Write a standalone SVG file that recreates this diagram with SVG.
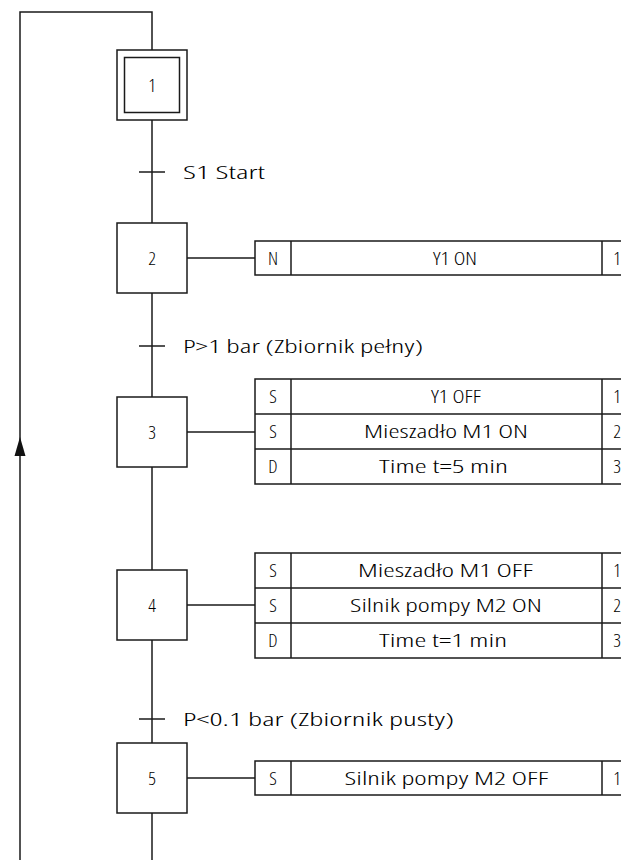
<svg xmlns="http://www.w3.org/2000/svg" width="621" height="860" viewBox="0 0 621 860">
<defs>
<style>
.ln{stroke:#1a1a1a;stroke-width:1.5;fill:none}
.bx{stroke:#1a1a1a;stroke-width:1.5;fill:#fff}
.t{font-family:"Open Sans","Liberation Sans",Arial,sans-serif;font-weight:300;font-stretch:75%;font-size:19px;fill:#000}
.c{text-anchor:middle}
</style>
</defs>
<rect width="621" height="860" fill="#fff"/>
<g id="connectors">
<polyline class="ln" points="20,860 20,12 152,12 152,50"/>
<path d="M20,437 L25.5,456 L14.5,456 Z" fill="#111"/>
<line class="ln" x1="152" y1="120" x2="152" y2="223"/>
<line class="ln" x1="152" y1="293" x2="152" y2="397"/>
<line class="ln" x1="152" y1="467" x2="152" y2="570"/>
<line class="ln" x1="152" y1="640" x2="152" y2="743"/>
<line class="ln" x1="152" y1="813" x2="152" y2="860"/>
<line class="ln" x1="187" y1="258" x2="255" y2="258"/>
<line class="ln" x1="187" y1="432" x2="255" y2="432"/>
<line class="ln" x1="187" y1="605" x2="255" y2="605"/>
<line class="ln" x1="187" y1="778" x2="255" y2="778"/>
</g>
<g id="t1">
<line class="ln" x1="139" y1="172" x2="165" y2="172"/>
<text class="t" x="183" y="179" textLength="82" lengthAdjust="spacingAndGlyphs">S1 Start</text>
</g>
<g id="t2">
<line class="ln" x1="139" y1="346" x2="165" y2="346"/>
<text class="t" x="183" y="353" textLength="240" lengthAdjust="spacingAndGlyphs">P&gt;1 bar (Zbiornik pełny)</text>
</g>
<g id="t4">
<line class="ln" x1="139" y1="719" x2="165" y2="719"/>
<text class="t" x="183" y="726" textLength="271" lengthAdjust="spacingAndGlyphs">P&lt;0.1 bar (Zbiornik pusty)</text>
</g>
<g id="step1">
<rect class="bx" x="117" y="50" width="70" height="70"/>
<rect class="bx" x="124.5" y="57.5" width="55" height="55"/>
<text class="t c" x="152" y="92">1</text>
</g>
<g id="step2">
<rect class="bx" x="117" y="223" width="70" height="70"/>
<text class="t c" x="152" y="265">2</text>
</g>
<g id="step3">
<rect class="bx" x="117" y="397" width="70" height="70"/>
<text class="t c" x="152" y="439">3</text>
</g>
<g id="step4">
<rect class="bx" x="117" y="570" width="70" height="70"/>
<text class="t c" x="152" y="612">4</text>
</g>
<g id="step5">
<rect class="bx" x="117" y="743" width="70" height="70"/>
<text class="t c" x="152" y="785">5</text>
</g>
<g id="action2">
<rect class="bx" x="255" y="241" width="400" height="34"/>
<line class="ln" x1="291" y1="241" x2="291" y2="275"/>
<line class="ln" x1="602" y1="241" x2="602" y2="275"/>
<text class="t c" x="273" y="265">N</text>
<text class="t c" x="455" y="265" textLength="44" lengthAdjust="spacingAndGlyphs">Y1 ON</text>
<text class="t c" x="617" y="265">1</text>
</g>
<g id="action3">
<rect class="bx" x="255" y="379" width="400" height="105"/>
<line class="ln" x1="255" y1="414" x2="655" y2="414"/>
<line class="ln" x1="255" y1="449" x2="655" y2="449"/>
<line class="ln" x1="291" y1="379" x2="291" y2="484"/>
<line class="ln" x1="602" y1="379" x2="602" y2="484"/>
<text class="t c" x="273" y="403">S</text>
<text class="t c" x="456" y="403" textLength="50" lengthAdjust="spacingAndGlyphs">Y1 OFF</text>
<text class="t c" x="617" y="403">1</text>
<text class="t c" x="273" y="438">S</text>
<text class="t c" x="446" y="438" textLength="164" lengthAdjust="spacingAndGlyphs">Mieszadło M1 ON</text>
<text class="t c" x="617" y="438">2</text>
<text class="t c" x="273" y="473">D</text>
<text class="t c" x="443.5" y="473" textLength="129" lengthAdjust="spacingAndGlyphs">Time t=5 min</text>
<text class="t c" x="617" y="473">3</text>
</g>
<g id="action4">
<rect class="bx" x="255" y="553" width="400" height="105"/>
<line class="ln" x1="255" y1="588" x2="655" y2="588"/>
<line class="ln" x1="255" y1="623" x2="655" y2="623"/>
<line class="ln" x1="291" y1="553" x2="291" y2="658"/>
<line class="ln" x1="602" y1="553" x2="602" y2="658"/>
<text class="t c" x="273" y="577">S</text>
<text class="t c" x="445.5" y="577" textLength="175" lengthAdjust="spacingAndGlyphs">Mieszadło M1 OFF</text>
<text class="t c" x="617" y="577">1</text>
<text class="t c" x="273" y="612">S</text>
<text class="t c" x="446" y="612" textLength="192" lengthAdjust="spacingAndGlyphs">Silnik pompy M2 ON</text>
<text class="t c" x="617" y="612">2</text>
<text class="t c" x="273" y="647">D</text>
<text class="t c" x="443" y="647" textLength="128" lengthAdjust="spacingAndGlyphs">Time t=1 min</text>
<text class="t c" x="617" y="647">3</text>
</g>
<g id="action5">
<rect class="bx" x="255" y="761" width="400" height="34"/>
<line class="ln" x1="291" y1="761" x2="291" y2="795"/>
<line class="ln" x1="602" y1="761" x2="602" y2="795"/>
<text class="t c" x="273" y="785">S</text>
<text class="t c" x="446.5" y="785" textLength="204" lengthAdjust="spacingAndGlyphs">Silnik pompy M2 OFF</text>
<text class="t c" x="617" y="785">1</text>
</g>
</svg>
